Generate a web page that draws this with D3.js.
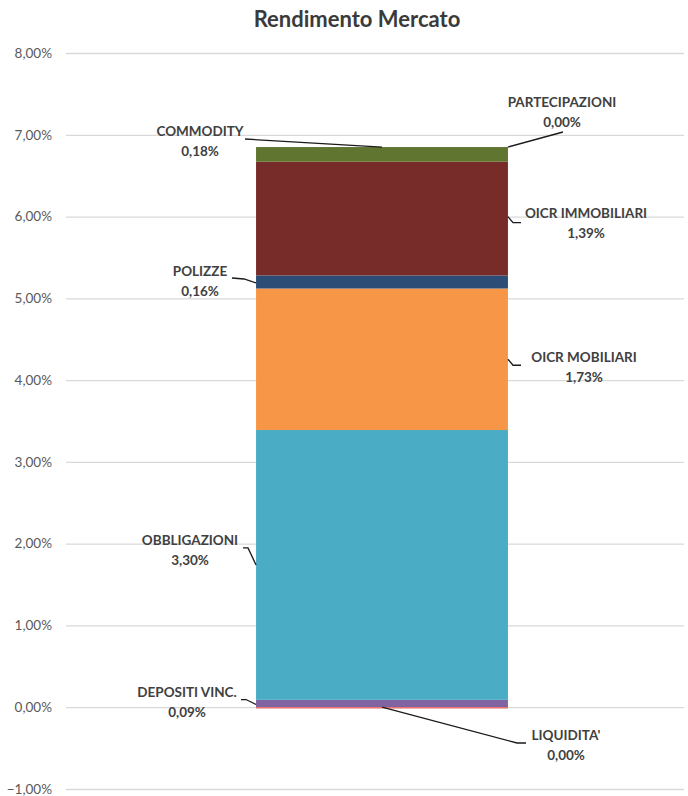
<!DOCTYPE html>
<html>
<head>
<meta charset="utf-8">
<script src="https://cdn.jsdelivr.net/npm/d3@7"></script>
<style>
  html, body { margin: 0; padding: 0; background: #fff; }
  svg { display: block; font-family: Lato, "Open Sans", sans-serif; }
</style>
</head>
<body>
<svg id="chart" width="688" height="796"></svg>
<script>
// Asset classes, stacked bottom to top
const categories = ["LIQUIDITA'", "DEPOSITI VINC.", "OBBLIGAZIONI", "OICR MOBILIARI", "POLIZZE", "OICR IMMOBILIARI", "COMMODITY", "PARTECIPAZIONI"];
// Contribution to the market return, in percent
const values = [0.00, 0.09, 3.30, 1.73, 0.16, 1.39, 0.18, 0.00];
const segmentColors = ["#E8726E", "#8064A2", "#4BACC6", "#F79646", "#2C4D75", "#772C2A", "#5F7530", "#9BBB59"];
const yTicks = [-1, 0, 1, 2, 3, 4, 5, 6, 7, 8];
const barName = ["Rendimento Mercato"];

const it = d3.formatLocale({ decimal: ",", thousands: ".", grouping: [3], currency: ["€", ""] });
const fmt = v => it.format(".2f")(v) + "%";

const svg = d3.select("#chart");

const y = d3.scaleLinear().domain([-1, 8]).range([789, 53]);
const x = d3.scaleBand().domain(barName).range([52, 712]).paddingInner(0).paddingOuter(0.81);

// Title
svg.append("text")
  .attr("x", 357).attr("y", 27)
  .attr("text-anchor", "middle")
  .attr("font-size", 22).attr("font-weight", "bold")
  .attr("fill", "#3a3a3a")
  .text("Rendimento Mercato");

// Gridlines and tick labels
const axis = d3.axisLeft(y)
  .tickValues(yTicks)
  .tickSize(-618)
  .tickPadding(14)
  .tickFormat(d => fmt(d));
const gAxis = svg.append("g").attr("transform", "translate(66,0)").call(axis);
gAxis.select(".domain").remove();
gAxis.selectAll(".tick line").attr("stroke", "#d9d9d9").attr("stroke-width", 1.3);
gAxis.selectAll(".tick text").attr("fill", "#595959").attr("font-size", 13.5)
  .attr("font-family", "Lato, 'Open Sans', sans-serif");

// Stacked segments
let acc = 0;
const segments = categories.map((c, i) => {
  const s = { name: c, value: values[i], y0: acc, y1: acc + values[i], color: segmentColors[i] };
  acc += values[i];
  return s;
});

const bx = x(barName[0]);
const bw = x.bandwidth();

svg.append("g").selectAll("rect").data(segments).join("rect")
  .attr("x", bx)
  .attr("width", bw)
  .attr("y", d => y(d.y1))
  .attr("height", d => y(d.y0) - y(d.y1))
  .attr("fill", d => d.color);

// Liquidity has no height: mark its baseline
svg.append("line")
  .attr("x1", bx).attr("x2", bx + bw)
  .attr("y1", y(segments[0].y0) + 0.5).attr("y2", y(segments[0].y0) + 0.5)
  .attr("stroke", segments[0].color).attr("stroke-width", 1.5);

// Data-label placement: label centre, and the leader path from the label to the bar
const left = bx, right = bx + bw, mid = bx + bw / 2;
const mean = s => (y(s.y0) + y(s.y1)) / 2;
const labelLayout = {
  "PARTECIPAZIONI":   { cx: 562, cy: 102, leader: s => [[563, 132], [right, y(s.y1)]] },
  "COMMODITY":        { cx: 200, cy: 131, leader: s => [[245, 139], [mid, y(s.y1)]] },
  "OICR IMMOBILIARI": { cx: 586, cy: 213, leader: s => [[521, mean(s) + 4], [513, mean(s) + 4], [right, mean(s) - 2]] },
  "POLIZZE":          { cx: 200, cy: 271, leader: s => [[232, mean(s) - 4], [244, mean(s) - 3], [left, mean(s) + 1]] },
  "OICR MOBILIARI":   { cx: 584, cy: 357, leader: s => [[521, mean(s) + 6], [513, mean(s) + 6], [right, mean(s)]] },
  "OBBLIGAZIONI":     { cx: 190, cy: 540, leader: s => [[243, mean(s) - 17], [248, mean(s) - 17], [left, mean(s)]] },
  "DEPOSITI VINC.":   { cx: 187, cy: 692, leader: s => [[241, mean(s) - 4], [246, mean(s) - 4], [left, mean(s) + 1]] },
  "LIQUIDITA'":       { cx: 566, cy: 735, leader: s => [[526, 743], [517, 743], [mid, y(s.y0)]] }
};

const gLabels = svg.append("g");
segments.forEach(s => {
  const L = labelLayout[s.name];
  gLabels.append("path")
    .attr("d", d3.line()(L.leader(s)))
    .attr("fill", "none")
    .attr("stroke", "#1a1a1a")
    .attr("stroke-width", 1.3);
  const t = gLabels.append("text")
    .attr("text-anchor", "middle")
    .attr("font-size", 13.5)
    .attr("font-weight", "bold")
    .attr("fill", "#404040");
  t.append("tspan").attr("x", L.cx).attr("y", L.cy + 5).text(s.name);
  t.append("tspan").attr("x", L.cx).attr("y", L.cy + 24.5).text(fmt(s.value));
});
</script>
</body>
</html>
